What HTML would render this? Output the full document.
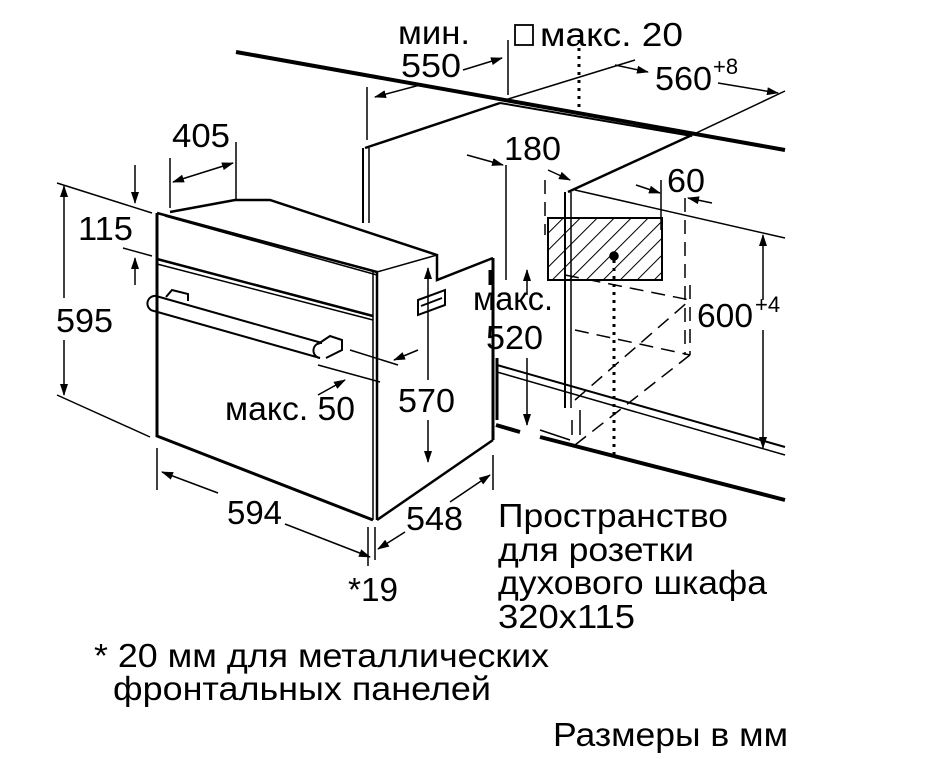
<!DOCTYPE html>
<html><head><meta charset="utf-8"><style>
html,body{margin:0;padding:0;background:#fff;width:936px;height:759px;overflow:hidden}
svg{display:block}
text{font-family:"Liberation Sans",sans-serif;fill:#000}
</style></head><body>
<svg width="936" height="759" viewBox="0 0 936 759" xmlns="http://www.w3.org/2000/svg">
<defs>
<marker id="a" markerWidth="12" markerHeight="8" refX="11" refY="4" orient="auto" markerUnits="userSpaceOnUse"><path d="M0,0 L12,4 L0,8 Z" fill="#000"/></marker>
<pattern id="h" width="12" height="12" patternUnits="userSpaceOnUse" patternTransform="rotate(45)"><line x1="0" y1="0" x2="0" y2="12" stroke="#000" stroke-width="2"/></pattern>
</defs>
<g stroke="#000" fill="none" stroke-width="1.5">
<line x1="236" y1="52" x2="785" y2="150" stroke-width="4"/>
<line x1="500" y1="103" x2="692" y2="136" stroke-width="2"/>
<line x1="505" y1="100" x2="635" y2="60"/>
<line x1="692" y1="135" x2="785" y2="91"/>
<line x1="365" y1="148" x2="500" y2="103" stroke-width="2.5"/>
<line x1="363" y1="148" x2="363" y2="223" stroke-width="2"/>
<line x1="369" y1="148" x2="369" y2="223" stroke-width="1.5"/>
<line x1="568" y1="192" x2="692" y2="135" stroke-width="2.5"/>
<line x1="565" y1="192" x2="565" y2="408" stroke-width="2"/>
<line x1="571" y1="192" x2="571" y2="408" stroke-width="1.5"/>
<line x1="575" y1="190" x2="785" y2="238"/>
<rect x="548" y="218" width="114" height="62" fill="url(#h)" stroke-width="2"/>
<circle cx="614" cy="256" r="4" fill="#000"/>
<line x1="497" y1="365" x2="785" y2="447" stroke-width="2"/>
<line x1="497" y1="372" x2="785" y2="455"/>
<line x1="496" y1="425" x2="520" y2="432" stroke-width="4"/>
<line x1="540" y1="437" x2="785" y2="500" stroke-width="4"/>
<line x1="572" y1="420" x2="572" y2="435"/>
<line x1="580" y1="410" x2="580" y2="435"/>
<g stroke-dasharray="14 8">
<line x1="565" y1="275" x2="690" y2="300"/>
<line x1="575" y1="330" x2="690" y2="355"/>
<line x1="690" y1="285" x2="690" y2="355"/>
<line x1="575" y1="400" x2="690" y2="300"/>
<line x1="575" y1="445" x2="690" y2="355"/>
<line x1="685" y1="198" x2="685" y2="355"/>
<line x1="545" y1="180" x2="545" y2="235"/>
</g>
<line x1="579" y1="40" x2="579" y2="120" stroke-width="3" stroke-dasharray="3 5"/>
<line x1="614" y1="260" x2="614" y2="455" stroke-width="3" stroke-dasharray="3 5"/>
<path d="M157,213 L157,436 L373,520" stroke-width="3"/>
<path d="M157,213 L377,272 L377,520" stroke-width="2.5"/>
<line x1="373" y1="272" x2="373" y2="520"/>
<line x1="165" y1="216" x2="377" y2="275"/>
<path d="M157,259 L373,316" stroke-width="2.5"/>
<line x1="157" y1="264" x2="373" y2="320"/>
<path d="M170,212 L235,200 L270,200 L437,255 L437,280 L493,258" stroke-width="2.5"/>
<path d="M377,272 L437,255"/>
<line x1="493" y1="258" x2="493" y2="440" stroke-width="3"/>
<line x1="377" y1="520" x2="493" y2="440" stroke-width="2.5"/>
<line x1="490" y1="270" x2="490" y2="285" stroke-width="3"/>
<path d="M156,296 L322,343 M154,311 L320,358" stroke-width="2"/>
<path d="M154,311 a7.5,7.5 0 0 1 2,-15" stroke-width="2"/>
<path d="M322,343 a7.5,7.5 0 0 0 -2,15" stroke-width="2"/>
<path d="M318,344 L330,336 L342,340 L342,350 L326,358" stroke-width="2"/>
<path d="M166,297 L172,290 L188,294 L188,301" stroke-width="2"/>
<path d="M418,300 L445,290 L445,305 L418,315 Z M421,306 L442,298" stroke-width="2"/>
<line x1="135" y1="165" x2="135" y2="203" marker-end="url(#a)"/>
<line x1="135" y1="285" x2="135" y2="258" marker-end="url(#a)"/>
<line x1="57" y1="183" x2="152" y2="213"/>
<line x1="123" y1="248" x2="152" y2="256"/>
<line x1="57" y1="395" x2="150" y2="437"/>
<line x1="64" y1="298" x2="64" y2="186" marker-end="url(#a)"/>
<line x1="64" y1="340" x2="64" y2="395" marker-end="url(#a)"/>
<line x1="170" y1="158" x2="170" y2="208"/>
<line x1="236" y1="142" x2="236" y2="200"/>
<line x1="182" y1="179" x2="173" y2="182" marker-end="url(#a)"/>
<line x1="182" y1="179" x2="233" y2="163" marker-end="url(#a)"/>
<line x1="157" y1="448" x2="157" y2="490"/>
<line x1="218" y1="493" x2="162" y2="472" marker-end="url(#a)"/>
<line x1="285" y1="524" x2="370" y2="557" marker-end="url(#a)"/>
<line x1="368" y1="527" x2="368" y2="566"/>
<line x1="375" y1="527" x2="375" y2="560"/>
<line x1="493" y1="455" x2="493" y2="490"/>
<line x1="450" y1="502" x2="490" y2="475" marker-end="url(#a)"/>
<line x1="405" y1="532" x2="378" y2="549" marker-end="url(#a)"/>
<line x1="428" y1="380" x2="428" y2="268" marker-end="url(#a)"/>
<line x1="428" y1="420" x2="428" y2="462" marker-end="url(#a)"/>
<line x1="418" y1="350" x2="394" y2="360" marker-end="url(#a)"/>
<line x1="350" y1="350" x2="398" y2="365"/>
<line x1="318" y1="365" x2="380" y2="382"/>
<line x1="318" y1="395" x2="345" y2="380" marker-end="url(#a)"/>
<line x1="467" y1="155" x2="503" y2="165" marker-end="url(#a)"/>
<line x1="506" y1="165" x2="506" y2="280"/>
<line x1="548" y1="170" x2="570" y2="180" marker-end="url(#a)"/>
<line x1="636" y1="185" x2="660" y2="193" marker-end="url(#a)"/>
<line x1="661" y1="180" x2="661" y2="230"/>
<line x1="712" y1="203" x2="688" y2="198" marker-end="url(#a)"/>
<line x1="763" y1="300" x2="763" y2="235" marker-end="url(#a)"/>
<line x1="763" y1="330" x2="763" y2="448" marker-end="url(#a)"/>
<line x1="527" y1="295" x2="527" y2="270" marker-end="url(#a)"/>
<line x1="527" y1="358" x2="527" y2="425" marker-end="url(#a)"/>
<line x1="497" y1="358" x2="497" y2="420" stroke-width="3"/>
<line x1="463" y1="70" x2="502" y2="58" marker-end="url(#a)"/>
<line x1="508" y1="40" x2="508" y2="95"/>
<line x1="420" y1="85" x2="375" y2="97" marker-end="url(#a)"/>
<line x1="367" y1="87" x2="367" y2="140"/>
<line x1="615" y1="65" x2="648" y2="72" marker-end="url(#a)"/>
<line x1="718" y1="83" x2="778" y2="93" marker-end="url(#a)"/>
<line x1="570" y1="440" x2="540" y2="430"/>
</g>
<rect x="515" y="25" width="18" height="20" fill="none" stroke="#000" stroke-width="1.8"/>
<g font-size="33">
<text x="398" y="44" textLength="72" lengthAdjust="spacingAndGlyphs">мин.</text>
<text x="401" y="77" textLength="60" lengthAdjust="spacingAndGlyphs">550</text>
<text x="540" y="46" textLength="143" lengthAdjust="spacingAndGlyphs">макс. 20</text>
<text x="655" y="90" textLength="57" lengthAdjust="spacingAndGlyphs">560</text><text x="713" y="74" font-size="22">+8</text>
<text x="172" y="147" textLength="58" lengthAdjust="spacingAndGlyphs">405</text>
<text x="78" y="240" textLength="55" lengthAdjust="spacingAndGlyphs">115</text>
<text x="56" y="332" textLength="57" lengthAdjust="spacingAndGlyphs">595</text>
<text x="504" y="160" textLength="57" lengthAdjust="spacingAndGlyphs">180</text>
<text x="667" y="192" textLength="38" lengthAdjust="spacingAndGlyphs">60</text>
<text x="473" y="310" textLength="80" lengthAdjust="spacingAndGlyphs">макс.</text>
<text x="486" y="349" textLength="57" lengthAdjust="spacingAndGlyphs">520</text>
<text x="697" y="327" textLength="56" lengthAdjust="spacingAndGlyphs">600</text><text x="755" y="312" font-size="22">+4</text>
<text x="225" y="420" textLength="130" lengthAdjust="spacingAndGlyphs">макс. 50</text>
<text x="398" y="412" textLength="57" lengthAdjust="spacingAndGlyphs">570</text>
<text x="227" y="524" textLength="55" lengthAdjust="spacingAndGlyphs">594</text>
<text x="406" y="530" textLength="57" lengthAdjust="spacingAndGlyphs">548</text>
<text x="348" y="601" textLength="50" lengthAdjust="spacingAndGlyphs">*19</text>
<text x="498" y="527" textLength="230" lengthAdjust="spacingAndGlyphs">Пространство</text>
<text x="498" y="561" textLength="196" lengthAdjust="spacingAndGlyphs">для розетки</text>
<text x="498" y="594" textLength="269" lengthAdjust="spacingAndGlyphs">духового шкафа</text>
<text x="498" y="628" textLength="137" lengthAdjust="spacingAndGlyphs">320x115</text>
<text x="94" y="667" textLength="455" lengthAdjust="spacingAndGlyphs">* 20 мм для металлических</text>
<text x="113" y="700" textLength="378" lengthAdjust="spacingAndGlyphs">фронтальных панелей</text>
<text x="553" y="746" textLength="235" lengthAdjust="spacingAndGlyphs">Размеры в мм</text>
</g>
</svg>
</body></html>
